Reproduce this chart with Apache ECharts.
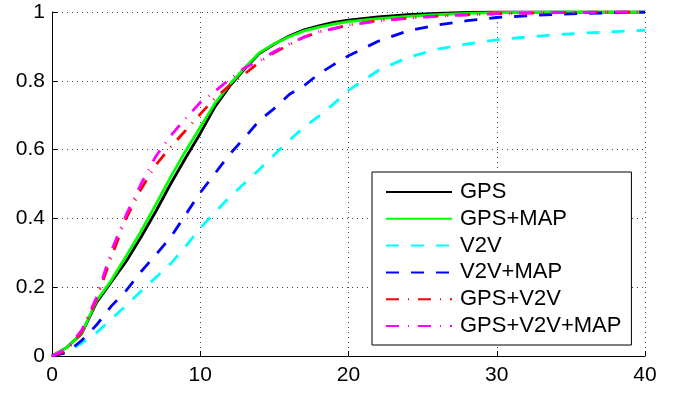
<!DOCTYPE html>
<html>
<head>
<meta charset="utf-8">
<script src="https://cdn.jsdelivr.net/npm/echarts@6/dist/echarts.min.js"></script>
<style>
html,body{margin:0;padding:0;background:#fff;}
#chart{width:681px;height:394px;}
</style>
</head>
<body>
<div id="chart"></div>
<script>
const xVals = [0,1,2,3,4,5,6,7,8,9,10,11,12,13,14,15,16,17,18,19,20,22,24,26,28,30,32,34,36,38,40];
const gps       = [0,0.025,0.065,0.155,0.215,0.275,0.345,0.42,0.5,0.575,0.647,0.725,0.785,0.835,0.88,0.907,0.93,0.948,0.96,0.97,0.976,0.986,0.992,0.996,0.999,1,1,1,1,1,1];
const gpsMap    = [0,0.025,0.066,0.16,0.22,0.29,0.362,0.44,0.52,0.595,0.665,0.735,0.79,0.838,0.882,0.908,0.928,0.945,0.956,0.965,0.972,0.981,0.987,0.992,0.996,0.998,0.999,1,1,1,1];
const v2v       = [0,0.012,0.037,0.068,0.107,0.147,0.188,0.228,0.268,0.318,0.372,0.418,0.463,0.503,0.543,0.585,0.627,0.665,0.697,0.733,0.772,0.83,0.868,0.892,0.907,0.919,0.927,0.934,0.939,0.943,0.947];
const v2vMap    = [0,0.01,0.045,0.09,0.145,0.19,0.245,0.294,0.345,0.41,0.475,0.531,0.587,0.635,0.685,0.72,0.76,0.786,0.82,0.847,0.873,0.915,0.945,0.962,0.975,0.984,0.989,0.993,0.996,0.998,1];
const gpsV2v    = [0,0.015,0.07,0.165,0.288,0.4,0.485,0.555,0.608,0.655,0.703,0.75,0.787,0.82,0.855,0.882,0.905,0.927,0.942,0.952,0.962,0.975,0.982,0.988,0.992,0.995,0.997,0.998,0.999,1,1];
const gpsV2vMap = [0,0.02,0.075,0.17,0.305,0.41,0.5,0.58,0.64,0.69,0.737,0.77,0.805,0.838,0.858,0.885,0.907,0.927,0.942,0.952,0.962,0.974,0.982,0.988,0.992,0.995,0.997,0.998,0.999,1,1];
const seriesNames = ['GPS','GPS+MAP','V2V','V2V+MAP','GPS+V2V','GPS+V2V+MAP'];
const xTicks = [0,10,20,30,40];
const yTicks = [0,0.2,0.4,0.6,0.8,1];

const FONT = '"Liberation Sans", Arial, Helvetica, sans-serif';
const pair = arr => xVals.map((x, i) => [x, arr[i]]);
const styles = [
  {color:'#000000', type:'solid'},
  {color:'#00ff00', type:'solid'},
  {color:'#00ffff', type:[13,12]},
  {color:'#0000ff', type:[13,12]},
  {color:'#ff0000', type:[13,9,1,9]},
  {color:'#ff00ff', type:[13,9,1,9]}
];
const dataSets = [gps, gpsMap, v2v, v2vMap, gpsV2v, gpsV2vMap];

const chart = echarts.init(document.getElementById('chart'), null, {renderer:'canvas'});
chart.setOption({
  animation: false,
  backgroundColor: '#ffffff',
  grid: {left: 52, right: 36, top: 12, bottom: 38, containLabel: false},
  xAxis: {
    type: 'value', min: xTicks[0], max: xTicks[xTicks.length-1], interval: 10,
    axisLine: {show: true, lineStyle: {color: '#000', width: 1}},
    axisTick: {show: true, inside: true, length: 5, lineStyle: {color: '#000'}},
    axisLabel: {color: '#000', fontSize: 21, fontFamily: FONT, margin: 9},
    splitLine: {show: true, lineStyle: {color: '#444', width: 1, type: [1,4]}}
  },
  yAxis: {
    type: 'value', min: yTicks[0], max: yTicks[yTicks.length-1], interval: 0.2,
    axisLine: {show: true, lineStyle: {color: '#000', width: 1}},
    axisTick: {show: true, inside: true, length: 5, lineStyle: {color: '#000'}},
    axisLabel: {color: '#000', fontSize: 21, fontFamily: FONT, margin: 7},
    splitLine: {show: true, lineStyle: {color: '#444', width: 1, type: [1,4]}}
  },
  legend: {
    orient: 'vertical', left: 372, top: 172,
    padding: [9, 10, 8, 13],
    backgroundColor: '#fff', borderColor: '#000', borderWidth: 1,
    itemWidth: 66, itemHeight: 18, itemGap: 4.8,
    itemStyle: {opacity: 0},
    textStyle: {fontSize: 22, fontFamily: FONT, color: '#000', lineHeight: 22, padding: [0,0,0,3]},
    data: seriesNames
  },
  series: dataSets.map((d, i) => ({
    name: seriesNames[i], type: 'line', data: pair(d),
    symbol: 'none', showSymbol: false, smooth: false,
    lineStyle: {color: styles[i].color, width: 2.8, type: styles[i].type},
    itemStyle: {color: styles[i].color}
  }))
});
</script>
</body>
</html>
